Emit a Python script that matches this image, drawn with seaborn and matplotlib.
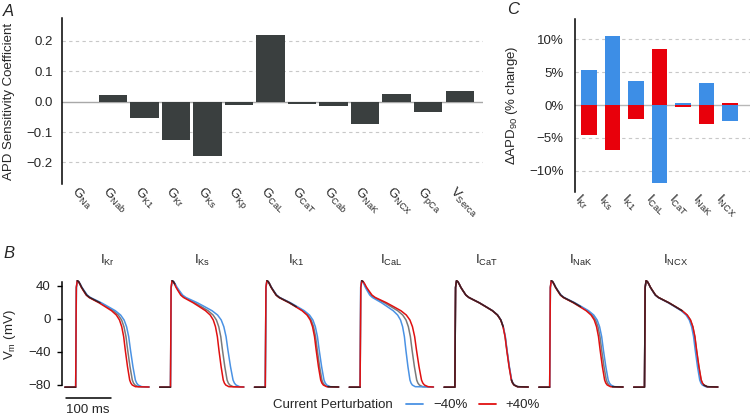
import numpy as np
import matplotlib
matplotlib.use('Agg')
import matplotlib.pyplot as plt
import seaborn as sns
from matplotlib.lines import Line2D
from matplotlib.transforms import ScaledTranslation
from matplotlib.ticker import FuncFormatter

# --- dados ---
# painel A: coeficientes de sensibilidade da APD
a_rotulos = [r'G$_{\mathrm{Na}}$', r'G$_{\mathrm{Nab}}$', r'G$_{\mathrm{K1}}$', r'G$_{\mathrm{Kr}}$',
             r'G$_{\mathrm{Ks}}$', r'G$_{\mathrm{Kp}}$', r'G$_{\mathrm{CaL}}$', r'G$_{\mathrm{CaT}}$',
             r'G$_{\mathrm{Cab}}$', r'G$_{\mathrm{NaK}}$', r'G$_{\mathrm{NCX}}$', r'G$_{\mathrm{pCa}}$',
             r'V$_{\mathrm{Serca}}$']
a_coef = [0.0, 0.022, -0.055, -0.127, -0.178, -0.012, 0.219, -0.007, -0.013, -0.075, 0.025, -0.034, 0.036]

# painel C: variação da APD90 (%) para -40% e +40%
c_rotulos = [r'I$_{\mathrm{Kr}}$', r'I$_{\mathrm{Ks}}$', r'I$_{\mathrm{K1}}$', r'I$_{\mathrm{CaL}}$',
             r'I$_{\mathrm{CaT}}$', r'I$_{\mathrm{NaK}}$', r'I$_{\mathrm{NCX}}$']
c_menos40 = [5.4, 10.5, 3.7, -11.9, 0.3, 3.35, -2.4]
c_mais40 = [-4.6, -6.8, -2.1, 8.5, -0.25, -2.95, 0.25]

# painel B: potencial de ação basal (tempo em ms, Vm em mV)
b_tempo = [-24, 0, 1.5, 3.6, 6.5, 9.6, 13, 17, 24.4, 31, 39.2, 54, 68.8, 83.6, 94.7,
           99, 102.1, 107.3, 111.8, 115.5, 120.7, 125.8, 128.5, 131.8, 139.2, 163]
b_vm = [-83, -83, 38, 46.1, 45.0, 42.1, 38.3, 34.8, 28.7, 25.8, 23.5, 19.4, 14.6, 9.7, 4.5,
        1.0, -1.6, -9.7, -21.8, -37.9, -58.1, -74.3, -78.0, -80.4, -82.4, -82.8]

AZUL = '#3d8ee6'
VERMELHO = '#e8000b'
CINZA_BARRA = '#3a3f3f'
AZUL_LINHA = '#4a92e4'
VERMELHO_LINHA = '#e01010'
ESCURO = '#3d1e22'
FS = 9.5

sns.set_style('white')
plt.rcParams['font.family'] = ['Liberation Sans', 'DejaVu Sans']
plt.rcParams['mathtext.fontset'] = 'custom'
plt.rcParams['mathtext.rm'] = 'Liberation Sans'
plt.rcParams['mathtext.it'] = 'Liberation Sans:italic'
plt.rcParams['font.size'] = FS

fig = plt.figure(figsize=(7.5, 4.17), dpi=100)
W, H = 750, 417


def eixo_px(esq, topo, larg, alt):
    return fig.add_axes([esq / W, 1 - (topo + alt) / H, larg / W, alt / H])


def rotulos_rotacionados(ax, dx_px):
    ax.tick_params(axis='x', length=0, pad=0, labelsize=FS)
    for lab in ax.get_xticklabels():
        lab.set_rotation(-45)
        lab.set_ha('left')
        lab.set_va('top')
        lab.set_rotation_mode('anchor')
        lab.set_transform(lab.get_transform() + ScaledTranslation(dx_px / 100, 0, fig.dpi_scale_trans))


def grade_tracejada(ax, valores):
    for v in valores:
        ax.axhline(v, color='#c8c8c8', lw=0.8, ls=(0, (3, 3)), zorder=0)


# ---------------- painel A ----------------
axA = eixo_px(62, 18, 421, 166)
grade_tracejada(axA, [-0.2, -0.1, 0.1, 0.2])
axA.axhline(0, color='#a8a8a8', lw=1.0, zorder=0.5)
sns.barplot(x=a_rotulos, y=a_coef, color=CINZA_BARRA, saturation=1, width=0.9,
            linewidth=0, ax=axA, zorder=2)
axA.set_xlim(-0.62, 12.74)
axA.set_ylim(-0.271, 0.275)
axA.set_yticks([-0.2, -0.1, 0.0, 0.1, 0.2])
axA.yaxis.set_major_formatter(FuncFormatter(lambda v, p: f'{v:.1f}'.replace('-', '\u2212')))
axA.tick_params(axis='y', length=0, pad=6.5, labelsize=FS)
for s in ['top', 'right', 'bottom']:
    axA.spines[s].set_visible(False)
axA.spines['left'].set_linewidth(1.1)
axA.spines['left'].set_color('black')
axA.set_xlabel('')
axA.set_ylabel('APD Sensitivity Coefficient', fontsize=FS)
axA.yaxis.set_label_coords(-0.111, 0.5)
rotulos_rotacionados(axA, -3)

# ---------------- painel C ----------------
axC = eixo_px(574.7, 19, 175.3, 172.7)
grade_tracejada(axC, [-10, -5, 5, 10])
axC.axhline(0, color='#b8b8b8', lw=1.0, zorder=0.5)
sns.barplot(x=c_rotulos, y=c_menos40, color=AZUL, saturation=1, width=0.66,
            linewidth=0, ax=axC, zorder=2)
sns.barplot(x=c_rotulos, y=c_mais40, color=VERMELHO, saturation=1, width=0.66,
            linewidth=0, ax=axC, zorder=2)
axC.set_xlim(-0.61, 6.85)
axC.set_ylim(-13.2, 13.1)
axC.set_yticks([-10, -5, 0, 5, 10])
axC.yaxis.set_major_formatter(FuncFormatter(lambda v, p: f'{v:.0f}%'.replace('-', '\u2212')))
axC.tick_params(axis='y', length=0, pad=8, labelsize=FS)
for s in ['top', 'right', 'bottom']:
    axC.spines[s].set_visible(False)
axC.spines['left'].set_linewidth(1.1)
axC.spines['left'].set_color('black')
axC.set_xlabel('')
axC.set_ylabel(r'$\Delta$APD$_{\mathrm{90}}$ (% change)', fontsize=FS)
axC.yaxis.set_label_coords(-0.312, 0.5)
rotulos_rotacionados(axC, -7)

# ---------------- painel B ----------------
t_base = np.array(b_tempo, dtype=float)
v_base = np.array(b_vm, dtype=float)
t_fim = t_base[-1]

for i, titulo in enumerate(c_rotulos):
    ax = eixo_px(62 + i * 94.8, 277.5, 90, 113.8)
    ax.set_xlim(-30.4, 169.6)
    ax.set_ylim(-88, 50)

    dentro = (t_base > 0) & (t_base < t_fim)
    t_azul = np.where(dentro, t_base * (1 + c_menos40[i] / 100), t_base)
    t_verm = np.where(dentro, t_base * (1 + c_mais40[i] / 100), t_base)

    kw = dict(sort=False, estimator=None, lw=1.1, ax=ax, legend=False)
    sns.lineplot(x=t_base, y=v_base, color='#7a7a7a', zorder=2, **kw)
    sns.lineplot(x=t_azul, y=v_base, color=AZUL_LINHA, zorder=3, **kw)
    sns.lineplot(x=t_verm, y=v_base, color=VERMELHO_LINHA, zorder=3, **kw)

    # trecho onde as três curvas se sobrepõem aparece escuro
    va = np.interp(t_base, t_azul, v_base)
    vv = np.interp(t_base, t_verm, v_base)
    escuro = np.where(np.abs(va - vv) < 1.8, v_base, np.nan)
    ax.plot(t_base, escuro, color=ESCURO, lw=1.1, zorder=4)

    ax.text(0.5, 1.154, titulo, transform=ax.transAxes, ha='center', va='center', fontsize=FS)
    ax.set_xlabel('')
    ax.set_ylabel('')
    ax.set_xticks([])
    for s in ['top', 'right', 'bottom']:
        ax.spines[s].set_visible(False)

    if i == 0:
        ax.spines['left'].set_bounds(-80, 45)
        ax.spines['left'].set_linewidth(1.1)
        ax.spines['left'].set_color('black')
        ax.set_yticks([-80, -40, 0, 40])
        ax.yaxis.set_major_formatter(FuncFormatter(lambda v, p: f'{v:.0f}'.replace('-', '\u2212')))
        ax.tick_params(axis='y', left=True, length=3.8, width=1.0, pad=4.3, labelsize=FS, color='black')
        ax.set_ylabel(r'V$_{\mathrm{m}}$ (mV)', fontsize=FS)
        ax.yaxis.set_label_coords(-0.49, 0.5)
        # barra de escala de 100 ms
        ax.plot([-22.2, 77.8], [-95.8, -95.8], color='black', lw=1.1, clip_on=False)
        ax.text(27.8, -110.5, '100 ms', ha='center', va='center', fontsize=FS)
    else:
        ax.spines['left'].set_visible(False)
        ax.set_yticks([])

# legenda
fig.text(393 / W, 1 - 405 / H, 'Current Perturbation', ha='right', va='center', fontsize=FS)
alcas = [Line2D([], [], color=AZUL_LINHA, lw=1.3), Line2D([], [], color=VERMELHO_LINHA, lw=1.3)]
fig.legend(alcas, ['\u221240%', '+40%'], loc='center left', bbox_to_anchor=(406 / W, 1 - 405 / H),
           ncol=2, frameon=False, fontsize=FS, handlelength=1.3, handletextpad=0.75,
           columnspacing=0.85, borderpad=0, borderaxespad=0)

# letras dos painéis
for letra, x, y in [('A', 3, 12), ('B', 3, 253), ('C', 507, 10)]:
    fig.text(x / W, 1 - y / H, letra, ha='left', va='center', fontsize=12, style='italic')

fig.savefig('out.png', dpi=100)
